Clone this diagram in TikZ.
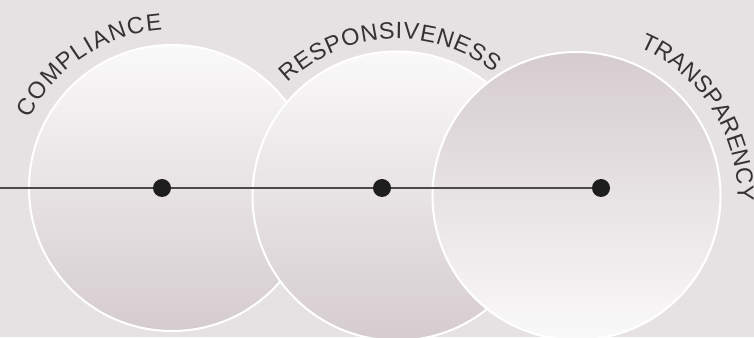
\documentclass[tikz,border=0pt]{standalone}
\usepackage{fontspec}
\newfontfamily\labelfont{Liberation Sans}
\usetikzlibrary{decorations.text}

\definecolor{bgcol}{HTML}{E6E2E3}
\definecolor{lightend}{HTML}{FAF9F9}
\definecolor{darkend}{HTML}{D5CCCF}
\definecolor{axiscol}{HTML}{4A4A4A}
\definecolor{dotcol}{HTML}{1E1E1E}
\definecolor{labelcol}{HTML}{333333}

\tikzset{
  disc/.style={circle, draw=white, line width=2pt, minimum size=#1, inner sep=0pt},
  fadedown/.style={top color=lightend, bottom color=darkend},
  fadeup/.style={top color=darkend, bottom color=lightend},
  axis/.style={draw=axiscol, line width=1.6pt},
  dot/.style={circle, fill=dotcol, minimum size=18pt, inner sep=0pt},
  arclabel/.style={decorate, decoration={text along path,
      text align={fit to path}, text color=labelcol, text={#1}}}
}

\begin{document}
% captions along the arcs are set in this font
\labelfont\fontsize{23.5}{28}\selectfont
\begin{tikzpicture}[x=1pt, y=1pt]
  % canvas
  \fill[bgcol] (0,0) rectangle (754,337);
  \useasboundingbox (0,0) rectangle (754,337);

  % three overlapping discs
  \node[disc=286pt, fadedown] (c1) at (172,149) {};
  \node[disc=289pt, fadedown] (c2) at (397,141) {};
  \node[disc=288pt, fadeup]   (c3) at (576.5,141) {};

  % curved captions
  \path[arclabel=COMPLIANCE]
    ([shift={(154:158)}]c1.center) arc[start angle=154, end angle=93.5, radius=158];
  \path[arclabel=RESPONSIVENESS]
    ([shift={(134:157)}]c2.center) arc[start angle=134, end angle=52, radius=157];
  \path[arclabel=TRANSPARENCY]
    ([shift={(67:161)}]c3.center) arc[start angle=67, end angle=-1.5, radius=161];

  % horizontal axis with markers
  \coordinate (start) at (0,149);
  \coordinate (p1) at (162,149);
  \coordinate (p2) at (382,149);
  \coordinate (p3) at (601,149);
  \draw[axis] (start) -- (p3);
  \node[dot] (d1) at (p1) {};
  \node[dot] (d2) at (p2) {};
  \node[dot] (d3) at (p3) {};
\end{tikzpicture}
\end{document}
